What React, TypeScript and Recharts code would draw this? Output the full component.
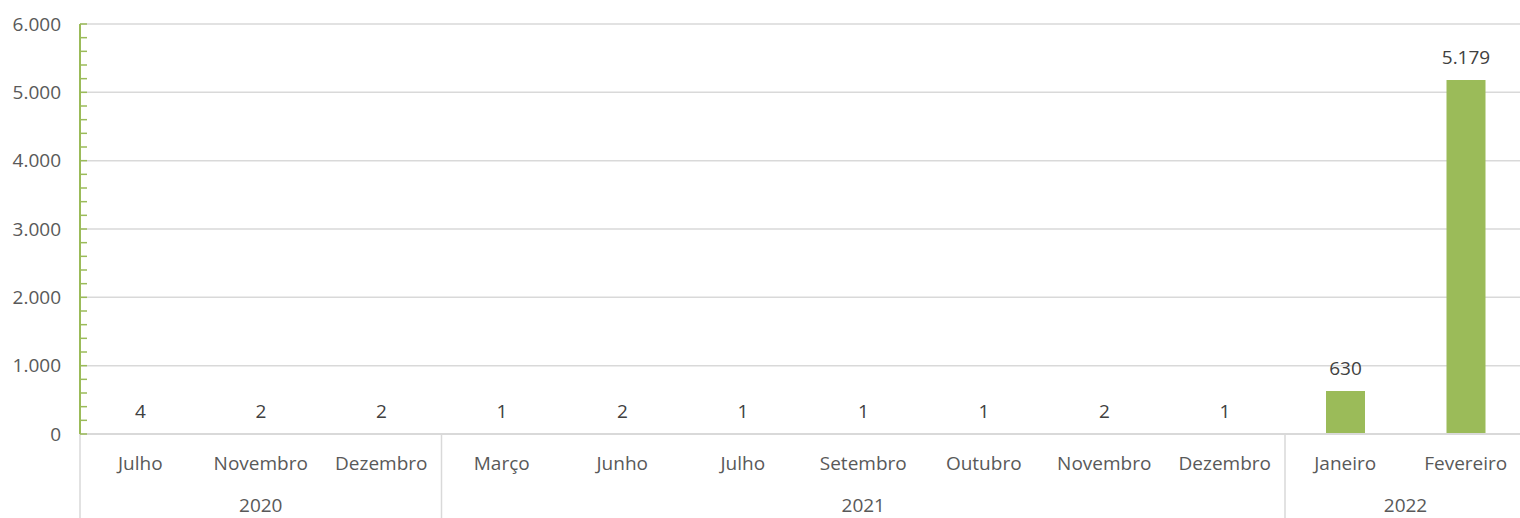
import React from "react"
import {
  BarChart,
  Bar,
  XAxis,
  YAxis,
  CartesianGrid,
  LabelList,
} from "recharts"

const months = [
  "Julho", "Novembro", "Dezembro",
  "Março", "Junho", "Julho", "Setembro", "Outubro", "Novembro", "Dezembro",
  "Janeiro", "Fevereiro",
]
const years = [
  "2020", "2020", "2020",
  "2021", "2021", "2021", "2021", "2021", "2021", "2021",
  "2022", "2022",
]
const values = [4, 2, 2, 1, 2, 1, 1, 1, 2, 1, 630, 5179]
const yTicks = [0, 1000, 2000, 3000, 4000, 5000, 6000]
const minorTicks = [
  0, 200, 400, 600, 800, 1000, 1200, 1400, 1600, 1800, 2000, 2200, 2400, 2600,
  2800, 3000, 3200, 3400, 3600, 3800, 4000, 4200, 4400, 4600, 4800, 5000, 5200,
  5400, 5600, 5800, 6000,
]

const data = months.map((m, i) => ({ month: m, year: years[i], value: values[i] }))

const CHART_W = 1526
const LEFT = 80
const LABEL_GAP = 19
const BAND = (CHART_W - LEFT) / months.length
const TEXT = "#595959"
const GREEN = "#9BBB59"
const GRID = "#d9d9d9"
const FONT = "'Open Sans', sans-serif"
const FS = 19

const fmt = (v: number) => String(v).replace(/\B(?=(\d{3})+(?!\d))/g, ".")

function YTick(props: any) {
  const { x, y, payload } = props
  const v = payload.value
  const axisX = x + LABEL_GAP
  return (
    <g>
      <line x1={axisX} x2={axisX + 7} y1={y} y2={y} stroke={GREEN} strokeWidth={1.5} />
      {yTicks.includes(v) && (
        <text x={x} y={y} dy="0.35em" textAnchor="end" fill={TEXT} fontSize={FS} fontFamily={FONT}>
          {fmt(v)}
        </text>
      )}
    </g>
  )
}

function YearTick(props: any) {
  const { x, y, payload } = props
  const i = payload.index
  const yr = years[i]
  let s = i
  while (s > 0 && years[s - 1] === yr) s--
  let e = i
  while (e < years.length - 1 && years[e + 1] === yr) e++
  const sepX = x - BAND / 2
  return (
    <g>
      {i === s && (
        <line x1={sepX} x2={sepX} y1={y - 50} y2={y + 34} stroke={GRID} strokeWidth={1.5} />
      )}
      {i === years.length - 1 && (
        <line x1={x + BAND / 2} x2={x + BAND / 2} y1={y - 50} y2={y + 34} stroke={GRID} strokeWidth={1.5} />
      )}
      {i === s && (
        <text
          x={x + ((s + e) / 2 - i) * BAND}
          y={y + 28}
          textAnchor="middle"
          fill={TEXT}
          fontSize={FS}
          fontFamily={FONT}
        >
          {yr}
        </text>
      )}
    </g>
  )
}

export default function App() {
  return (
    <div style={{ position: "absolute", left: 0, top: 0, width: 1520, height: 518, overflow: "hidden", background: "#fff" }}>
      <BarChart
        width={CHART_W}
        height={518}
        data={data}
        margin={{ top: 24, right: 0, left: 0, bottom: 0 }}
        barCategoryGap={0}
      >
        <CartesianGrid vertical={false} stroke={GRID} strokeWidth={1.5} horizontalValues={yTicks} />
        <XAxis
          dataKey="month"
          interval={0}
          height={50}
          axisLine={{ stroke: GRID, strokeWidth: 2 }}
          tickLine={false}
          tickSize={0}
          tickMargin={23}
          tick={{ fill: TEXT, fontSize: FS, fontFamily: FONT }}
        />
        <XAxis
          xAxisId="year"
          dataKey="month"
          interval={0}
          height={34}
          axisLine={false}
          tickLine={false}
          tickSize={0}
          tickMargin={0}
          tick={<YearTick />}
        />
        <YAxis
          width={LEFT}
          domain={[0, 6000]}
          ticks={minorTicks}
          interval={0}
          axisLine={{ stroke: GREEN, strokeWidth: 2 }}
          tickLine={false}
          tickSize={0}
          tickMargin={LABEL_GAP}
          tick={<YTick />}
        />
        <Bar dataKey="value" fill={GREEN} barSize={39} isAnimationActive={false}>
          <LabelList
            dataKey="value"
            position="top"
            offset={16}
            formatter={(v: any) => fmt(Number(v))}
            fill="#404040"
            fontSize={FS}
            fontFamily={FONT}
          />
        </Bar>
      </BarChart>
    </div>
  )
}
